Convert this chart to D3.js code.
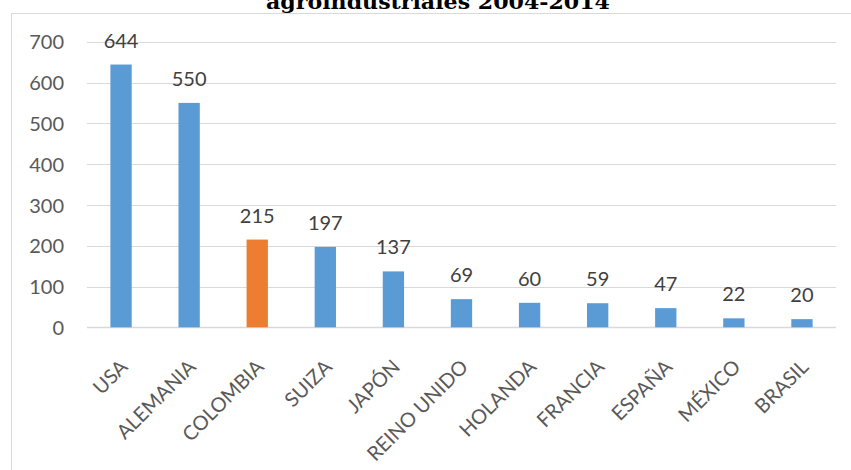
<!DOCTYPE html>
<html>
<head>
<meta charset="utf-8">
<script src="https://cdn.jsdelivr.net/npm/d3@7"></script>
<style>
  html, body { margin: 0; padding: 0; background: #fff; }
  svg { display: block; }
</style>
</head>
<body>
<svg id="chart" width="851" height="470"></svg>
<script>
const categories = ["USA", "ALEMANIA", "COLOMBIA", "SUIZA", "JAPÓN", "REINO UNIDO", "HOLANDA", "FRANCIA", "ESPAÑA", "MÉXICO", "BRASIL"];
const values = [644, 550, 215, 197, 137, 69, 60, 59, 47, 22, 20];
const highlighted = ["COLOMBIA"];
const yTicks = [0, 100, 200, 300, 400, 500, 600, 700];
const titleText = "agroindustriales 2004-2014";

(function () {
const svg = d3.select("#chart");
const plotLeft = 87, plotRight = 836, plotTop = 41.7, plotBottom = 327.3;
const font = "Lato, 'Open Sans', sans-serif";

// chart border (extends past the right and bottom edges)
svg.append("rect")
  .attr("x", 11.5).attr("y", 13.5)
  .attr("width", 900).attr("height", 500)
  .attr("fill", "#fff").attr("stroke", "#d9d9d9").attr("stroke-width", 1);

// title (clipped at top as in the reference)
svg.append("text")
  .attr("x", 438).attr("y", 8.5)
  .attr("text-anchor", "middle")
  .attr("font-family", "'DejaVu Serif', 'Liberation Serif', serif")
  .attr("font-weight", "bold")
  .attr("font-size", 20)
  .attr("textLength", 344)
  .attr("lengthAdjust", "spacingAndGlyphs")
  .attr("fill", "#000")
  .text(titleText);

const x = d3.scaleBand().domain(categories).range([plotLeft, plotRight])
  .paddingInner(0.687).paddingOuter(0.3435);
const y = d3.scaleLinear().domain([0, 700]).range([plotBottom, plotTop]);

// gridlines
svg.append("g").selectAll("line").data(yTicks).join("line")
  .attr("x1", plotLeft).attr("x2", plotRight)
  .attr("y1", d => Math.round(y(d)) + 0.5).attr("y2", d => Math.round(y(d)) + 0.5)
  .attr("stroke", "#d9d9d9").attr("stroke-width", d => d === 0 ? 1.5 : 1);

// y axis labels
const yAxis = d3.axisLeft(y).tickValues(yTicks).tickSize(0).tickPadding(0);
const yg = svg.append("g").attr("transform", "translate(64,0)").call(yAxis);
yg.select(".domain").remove();
yg.selectAll("text")
  .attr("font-family", font).attr("font-size", 20).attr("fill", "#595959")
  .attr("dy", "0.36em");

// bars
svg.append("g").selectAll("rect").data(values).join("rect")
  .attr("x", (d, i) => x(categories[i]))
  .attr("width", x.bandwidth())
  .attr("y", d => y(d))
  .attr("height", d => y(0) - y(d))
  .attr("fill", (d, i) => highlighted.includes(categories[i]) ? "#ED7D31" : "#5B9BD5");

// value labels
svg.append("g").selectAll("text").data(values).join("text")
  .attr("x", (d, i) => x(categories[i]) + x.bandwidth() / 2)
  .attr("y", d => y(d) - 17)
  .attr("text-anchor", "middle")
  .attr("font-family", font).attr("font-size", 20).attr("fill", "#404040")
  .text(d => d);

// x axis labels rotated
const xAxis = d3.axisBottom(x).tickSize(0).tickPadding(0);
const xg = svg.append("g").attr("transform", `translate(0,${plotBottom})`).call(xAxis);
xg.select(".domain").remove();
xg.selectAll(".tick text")
  .attr("font-family", font).attr("font-size", 20).attr("fill", "#595959")
  .attr("text-anchor", "end")
  .attr("x", 0).attr("y", 0).attr("dy", "0.7em")
  .attr("transform", "translate(-2,31) rotate(-45)");
})();
</script>
</body>
</html>
